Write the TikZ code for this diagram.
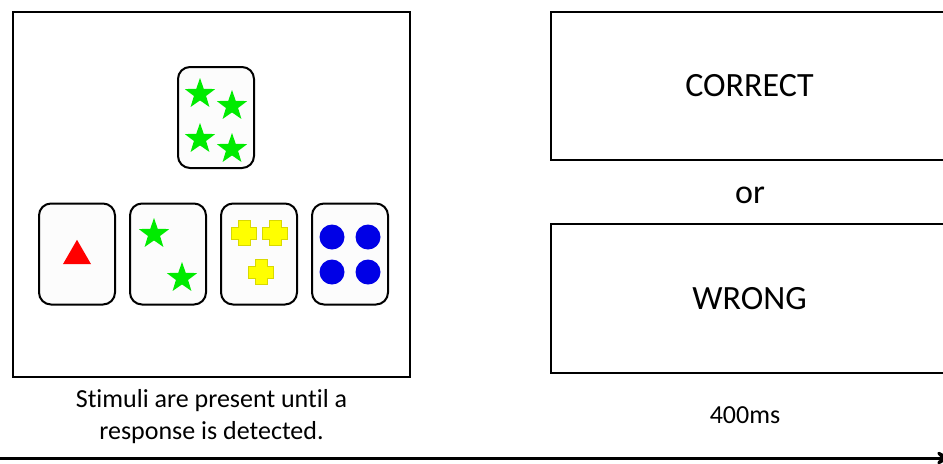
\documentclass[tikz,border=0pt]{standalone}
\usepackage{fontspec}
\setmainfont{Carlito}[Ligatures=NoCommon]
\usetikzlibrary{arrows,positioning,shapes.geometric}

\definecolor{symgreen}{RGB}{0,235,0}
\definecolor{symred}{RGB}{255,0,0}
\definecolor{symyellow}{RGB}{255,255,0}
\definecolor{symblue}{RGB}{0,0,230}

\begin{document}
\begin{tikzpicture}[x=0.5pt,y=-0.5pt,>=stealth',node distance=6.5pt,
  frame/.style={draw,line width=1.4pt,inner sep=0pt},
  card/.style={draw,line width=1pt,rounded corners=6pt,fill=black!1,minimum width=38pt,minimum height=50.5pt},
  st/.style={star,star points=5,star point ratio=2.5,fill=symgreen,minimum size=16pt,inner sep=0pt},
  dot/.style={circle,fill=symblue,minimum size=12.5pt,inner sep=0pt},
  tri/.style={regular polygon,regular polygon sides=3,fill=symred,minimum size=16.2pt,inner sep=0pt},
  plus/.style={fill=symyellow,draw=symyellow!85!black,line width=0.3pt},
  big/.style={font=\fontsize{17}{20}\selectfont},
  small/.style={font=\fontsize{13}{16}\selectfont,align=center}]
      \clip (0,0) rectangle (943,463);

      % stimulus screen
      \node[frame,minimum width=198.5pt,minimum height=182.5pt] (stim) at (211.5,194.5) {};
      \node[card] (target) at (216,117.5) {};
      \node[card] (c1) at (77,254) {};
      \node[card] (c2) [right=of c1] {};
      \node[card] (c3) [right=of c2] {};
      \node[card] (c4) [right=of c3] {};

      % symbols
      \foreach \x/\y in {200/94,232/106,200/139,232/149}
        \node[st] at (\x,\y) {};
      \node[tri] at (77,256) {};
      \node[st] at (154,234) {};
      \node[st] at (182,278) {};
      \foreach \x/\y in {244/233,275/233,261/272}
        \path[plus] (\x,\y) ++(-6,-12.5) -- ++(12,0) -- ++(0,6.5) -- ++(6.5,0) -- ++(0,12)
          -- ++(-6.5,0) -- ++(0,6.5) -- ++(-12,0) -- ++(0,-6.5) -- ++(-6.5,0) -- ++(0,-12) -- ++(6.5,0) -- cycle;
      \foreach \x/\y in {332/237,368/237,332/272,368/272}
        \node[dot] at (\x,\y) {};

      \node[small] (stimtext) at (211.5,417) {Stimuli are present until a\\response is detected.};

      % feedback screens
      \node[frame,big,minimum width=198.5pt,minimum height=74pt] (correct) at (749.5,86) {CORRECT};
      \node[big] (or) at (750,195) {or};
      \node[frame,big,minimum width=198.5pt,minimum height=74.5pt] (wrong) at (749.5,298.5) {WRONG};
      \node[small] (delay) at (745,415) {400ms};

      % time line
      \coordinate (t0) at (0,458);
      \coordinate (t1) at (952,458);
      \draw[->,line width=1.5pt] (t0) -- (t1);
    \end{tikzpicture}
\end{document}
